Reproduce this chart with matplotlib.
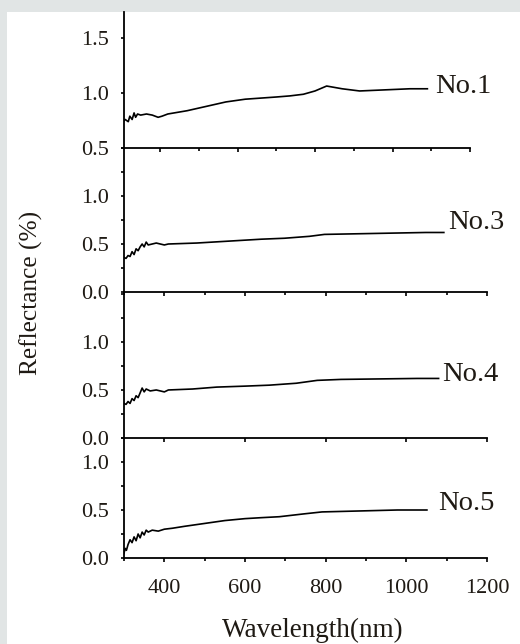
import numpy as np
import matplotlib
matplotlib.use("Agg")
import matplotlib.pyplot as plt
from matplotlib.patches import Rectangle
from matplotlib.ticker import MultipleLocator, FormatStrFormatter, NullFormatter

plt.rcParams['font.family'] = ['Liberation Serif', 'DejaVu Serif']

# spectra (wavelength nm, reflectance)
no1_x = [300, 305, 310, 318, 322, 328, 333, 337, 342, 350, 365, 380, 395, 405, 420, 470, 520,
         570, 620, 660, 700, 735, 770, 800, 830, 870, 915, 1045, 1090]
no1_y = [0.75, 0.74, 0.76, 0.74, 0.79, 0.76, 0.82, 0.78, 0.81, 0.80, 0.81, 0.80, 0.78, 0.79, 0.81,
         0.84, 0.88, 0.92, 0.945, 0.955, 0.965, 0.975, 0.99, 1.02, 1.065, 1.04, 1.02, 1.04, 1.04]

no3_x = [300, 305, 310, 315, 320, 325, 330, 335, 340, 345, 350, 355, 360, 370, 380, 400, 410,
         480, 560, 640, 698, 760, 797, 1048, 1093]
no3_y = [0.36, 0.35, 0.38, 0.37, 0.42, 0.39, 0.45, 0.43, 0.47, 0.50, 0.47, 0.52, 0.49, 0.50, 0.51,
         0.49, 0.50, 0.51, 0.53, 0.55, 0.56, 0.58, 0.60, 0.62, 0.62]

no4_x = [300, 305, 310, 315, 320, 325, 330, 335, 340, 345, 350, 355, 365, 380, 400, 410, 470,
         530, 600, 660, 727, 779, 838, 1027, 1080]
no4_y = [0.36, 0.35, 0.38, 0.36, 0.41, 0.39, 0.44, 0.42, 0.47, 0.52, 0.48, 0.51, 0.49, 0.50, 0.48,
         0.50, 0.51, 0.53, 0.54, 0.55, 0.57, 0.60, 0.61, 0.62, 0.62]

no5_x = [300, 303, 306, 310, 315, 320, 325, 330, 335, 340, 345, 350, 355, 360, 370, 385, 400,
         420, 450, 500, 550, 600, 640, 685, 747, 791, 978, 1051]
no5_y = [0.05, 0.10, 0.08, 0.14, 0.19, 0.16, 0.22, 0.18, 0.25, 0.21, 0.27, 0.24, 0.29, 0.27, 0.29,
         0.28, 0.30, 0.31, 0.33, 0.36, 0.39, 0.41, 0.42, 0.43, 0.46, 0.48, 0.50, 0.50]

names = ['No.1', 'No.3', 'No.4', 'No.5']
label_pos = [(1109, 1.06), (1103, 0.72), (1088, 0.656), (1079, 0.57)]
ylims = [(0.5, 1.74), (0, 1.5), (0, 1.52), (0, 1.25)]
xticks = [400, 600, 800, 1000, 1200]

txt = '#1f1a14'
W, H = 520, 644
fig = plt.figure(figsize=(W / 100, H / 100), dpi=100, facecolor='white')
# grey strips along the top and left edge
fig.patches.append(Rectangle((0, 1 - 12 / H), 1, 12 / H, transform=fig.transFigure,
                             facecolor='#e1e5e5', edgecolor='none', zorder=-10))
fig.patches.append(Rectangle((0, 0), 7 / W, 1, transform=fig.transFigure,
                             facecolor='#e1e5e5', edgecolor='none', zorder=-10))

# axes boxes in pixels: left, right, top, bottom
boxes = [(124, 470, 12, 148), (124, 487, 148, 292), (124, 487, 292, 438), (124, 487, 438, 558)]
xlims = [(307, 1200), (300, 1200), (300, 1200), (300, 1200)]
data = [(no1_x, no1_y), (no3_x, no3_y), (no4_x, no4_y), (no5_x, no5_y)]

for i, (l, r, t, b) in enumerate(boxes):
    ax = fig.add_axes([l / W, 1 - b / H, (r - l) / W, (b - t) / H])
    ax.patch.set_alpha(0)
    x, y = data[i]
    ax.plot(x, y, color='black', lw=1.2)
    ax.set_xlim(*xlims[i])
    ax.set_ylim(*ylims[i])
    for s in ['top', 'right']:
        ax.spines[s].set_visible(False)
    for s in ['left', 'bottom']:
        ax.spines[s].set_linewidth(1.3)
    ax.set_xticks(xticks)
    if i != 2:
        ax.xaxis.set_minor_locator(MultipleLocator(100))
    if i == 0:
        ax.set_yticks([0.5, 1.0, 1.5])
    else:
        ax.set_yticks([0.0, 0.5, 1.0])
        ax.yaxis.set_minor_locator(MultipleLocator(0.25))
    ax.yaxis.set_major_formatter(FormatStrFormatter('%.1f'))
    ax.tick_params(axis='y', which='both', direction='out', length=2.2, width=1.2,
                   pad=8.5, labelsize=16, labelcolor=txt)
    ax.tick_params(axis='x', which='major', direction='out', length=3.2, width=1.2,
                   pad=12, labelsize=16, labelcolor=txt)
    ax.tick_params(axis='x', which='minor', direction='out', length=2, width=1.2)
    if i != 3:
        ax.xaxis.set_major_formatter(NullFormatter())
    ax.text(label_pos[i][0], label_pos[i][1], names[i], fontsize=20.5, color=txt,
            ha='left', va='center')

fig.text(31 / W, 1 - 293 / H, 'Reflectance (%)', rotation=90, ha='center', va='center',
         fontsize=18.3, color=txt)
fig.text(313 / W, 1 - 630 / H, 'Wavelength(nm)', ha='center', va='center',
         fontsize=19.5, color=txt)

fig.savefig('out.png', dpi=100, facecolor=fig.get_facecolor())
